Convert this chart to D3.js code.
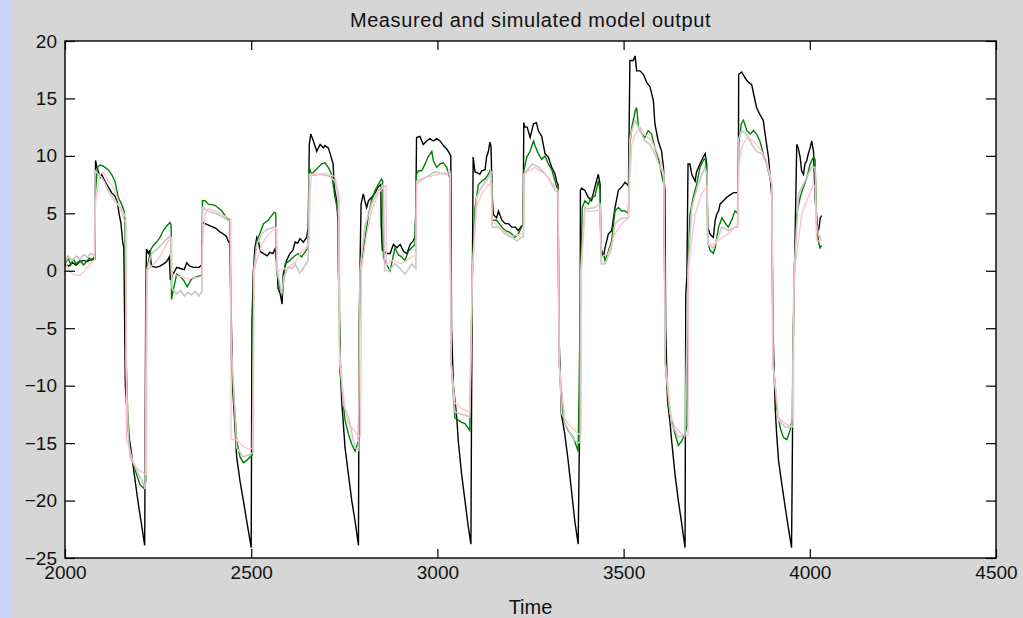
<!DOCTYPE html>
<html>
<head>
<meta charset="utf-8">
<script src="https://cdn.jsdelivr.net/npm/d3@7"></script>
<style>
  body { margin: 0; background: #d6d6d6; }
  text { font-family: "Liberation Sans", Arial, sans-serif; }
</style>
</head>
<body>
<svg id="chart" width="1023" height="618"></svg>
<script>
// values: [time, output]
var measured = [[2000,0.6],[2010,0.4],[2020,0.7],[2030,0.5],[2040,0.8],[2050,0.9],[2060,0.8],[2070,1.0],[2080,1.0],
  [2082,9.6],[2085,9.1],[2090,8.6],[2094,8.1],[2098,8.4],[2107,7.8],[2116,7.3],[2125,6.8],[2134,6.5],[2140,6.1],[2145,5.0],[2150,4.2],[2155,2.5],[2158,2.0],
  [2162,-10],[2170,-14],[2179,-16],[2188,-18.2],[2197,-20.3],[2206,-22.2],[2214,-23.9],
  [2217,-1],[2219,1.9],[2224,1.5],[2228,1.8],[2232,0.4],[2245,0.3],[2255,0.4],[2265,0.6],[2273,0.8],[2280,1.2],[2283,-0.8],[2290,-0.3],[2300,0.3],[2310,0.2],[2320,0.1],[2327,0.7],[2335,0.4],[2345,0.3],[2360,0.3],[2367,0.5],
  [2369,4.2],[2376,4.1],[2390,3.9],[2405,3.7],[2415,3.4],[2425,3.2],[2433,3.0],[2438,2.6],[2443,2.4],
  [2445,-1.5],[2450,-10],[2461,-16.2],[2470,-18.3],[2479,-20],[2488,-21.8],[2497,-23.5],[2500,-24.1],
  [2502,-4.4],[2506,0],[2510,2.0],[2515,2.9],[2520,2.5],[2524,1.7],[2533,1.5],[2543,1.3],[2550,1.6],[2558,1.5],[2564,1.9],[2570,0.3],
  [2572,-1.5],[2578,-2.0],[2583,-2.9],[2586,-0.3],[2595,0.9],[2604,1.5],[2612,1.8],[2618,2.5],[2625,2.4],[2631,2.8],[2640,2.5],[2649,2.9],[2653,3.8],
  [2656,11.0],[2660,11.9],[2667,11.3],[2676,10.4],[2685,11.0],[2694,10.7],[2698,10.9],[2707,10.7],[2712,10.2],[2720,9.3],[2723,7.3],[2730,6.0],[2733,4.2],[2734,0.3],
  [2740,-9],[2743,-11.3],[2752,-15.4],[2761,-17.7],[2770,-20],[2779,-21.8],[2788,-23.9],
  [2790,-5],[2792,0],[2795,5.8],[2801,6.7],[2805,6.1],[2810,5.5],[2815,6.1],[2824,6.4],[2833,6.8],[2841,7.3],[2848,7.5],[2849,4.2],[2852,1.8],[2864,1.5],[2873,1.5],[2882,2.3],[2891,2.0],[2900,2.3],[2909,1.7],[2918,1.5],[2927,2.3],[2935,2.6],[2940,2.9],[2942,5.2],
  [2944,11.6],[2953,11.7],[2962,11.0],[2971,11.3],[2980,11.5],[2989,11.3],[2998,11.5],[3007,11.3],[3016,10.9],[3025,10.6],[3031,10.3],[3036,10.0],
  [3038,-5],[3043,-10],[3052,-12.8],[3056,-14.8],[3065,-17.7],[3074,-20],[3083,-22.3],[3090,-23.8],
  [3092,-10],[3094,0],[3096,9.9],[3101,8.6],[3109,8.5],[3114,8.4],[3119,8.7],[3128,8.8],[3132,9.9],[3137,10.4],[3141,11.2],[3144,10.8],[3147,6.7],[3150,4.9],[3159,4.6],[3164,5.2],[3173,4.4],[3182,4.1],[3191,4.1],[3200,3.8],[3209,3.8],[3217,3.5],[3226,3.9],[3230,3.9],
  [3232,12.9],[3235,12.5],[3241,12.5],[3249,11.6],[3258,12.8],[3266,12.9],[3271,12.2],[3280,11.7],[3289,10.2],[3298,9.9],[3307,9.0],[3316,8.4],[3320,7.8],[3324,7.5],
  [3326,-5],[3333,-12.5],[3342,-14.2],[3351,-16.5],[3360,-19.1],[3369,-21.8],[3378,-23.8],
  [3383,-10],[3384,7.0],[3387,7.2],[3396,7.0],[3405,6.4],[3414,6.1],[3423,7.3],[3432,8.4],[3437,7.5],[3439,2.0],[3446,1.2],[3450,2.0],[3459,3.2],[3468,3.5],[3477,5.5],[3486,7.0],[3495,7.3],[3504,7.7],[3513,7.4],
  [3517,18.3],[3526,18.3],[3531,18.7],[3535,17.4],[3544,17.4],[3553,17.1],[3562,16.4],[3571,16.0],[3580,14.8],[3584,12.8],[3593,11.3],[3602,10.4],[3607,9.0],[3609,7.8],[3611,7.0],
  [3613,-5],[3618,-11.3],[3625,-13.3],[3629,-14.8],[3638,-17.7],[3647,-20],[3656,-22],[3665,-24.1],
  [3667,-2],[3670,-0.5],[3673,9.3],[3678,9.3],[3683,8.4],[3692,7.8],[3696,8.6],[3705,9.3],[3714,9.9],[3719,10.2],[3723,9.3],[3726,3.8],[3732,3.2],[3741,2.9],[3746,4.4],[3750,4.9],[3755,5.2],[3759,5.8],[3768,6.1],[3777,6.4],[3786,6.6],[3795,6.8],[3804,6.8],[3808,6.9],
  [3809,17.1],[3817,17.3],[3826,16.8],[3835,16.4],[3844,16.2],[3853,14.8],[3857,14.2],[3866,13.6],[3875,13.1],[3880,11.9],[3884,11.0],[3889,9.9],[3893,8.4],[3896,7.3],[3898,6.4],
  [3901,-5],[3907,-11.9],[3911,-14.2],[3916,-16.5],[3925,-18.6],[3934,-20.6],[3942,-22.3],[3951,-24.1],
  [3956,-5],[3960,2],[3965,11.0],[3969,10.7],[3974,9.9],[3978,8.7],[3983,8.4],[3987,9.3],[3992,9.6],[3996,10.2],[4001,10.7],[4005,11.3],[4010,10.4],[4014,6.4],[4019,4.4],[4021,3.2],[4025,3.8],[4028,4.6],[4032,4.8]];

var modelGreen = [[2000,0.4],[2008,1.2],[2015,0.5],[2022,1.0],[2030,0.6],[2040,0.9],[2050,0.5],[2058,0.8],[2065,1.1],[2072,0.9],[2080,1.3],
  [2082,7.0],[2087,9.0],[2094,9.2],[2103,9.1],[2107,9.0],[2116,8.8],[2125,8.4],[2134,7.8],[2143,6.4],[2152,5.8],[2159,5.2],[2161,4.2],
  [2164,-7.5],[2168,-12],[2175,-16],[2183,-16.8],[2192,-17.7],[2201,-18.6],[2210,-18.9],[2217,-18.3],
  [2219,0],[2231,1.9],[2237,2.2],[2246,2.5],[2255,2.9],[2264,3.5],[2273,3.9],[2282,4.2],[2285,4.0],
  [2286,-2.5],[2292,-1.5],[2300,-0.3],[2310,-0.5],[2320,-0.9],[2328,-1.4],[2340,-0.7],[2355,-0.5],[2368,-0.4],
  [2369,6.1],[2376,6.1],[2385,5.8],[2403,5.7],[2421,5.2],[2434,4.6],[2443,4.4],
  [2446,-7.3],[2461,-14.8],[2470,-16.2],[2479,-16.7],[2488,-16.5],[2497,-16.2],[2503,-16],
  [2506,0],[2515,2.6],[2524,3.3],[2533,4.1],[2546,4.4],[2555,4.8],[2562,5.1],[2566,5.0],
  [2568,0],[2577,-1.5],[2584,-2.0],[2591,0.6],[2604,0.9],[2613,1.2],[2626,1.5],[2635,1.2],[2644,1.6],[2653,2.0],
  [2656,9.0],[2662,8.4],[2671,8.7],[2680,9.0],[2689,9.3],[2698,9.4],[2707,9.0],[2716,8.4],[2725,6.4],[2734,4.9],[2736,4.5],
  [2738,-8.7],[2752,-13],[2761,-14.2],[2770,-15.1],[2779,-15.7],[2788,-14.8],
  [2792,0],[2805,2.6],[2815,4.9],[2823,6.1],[2833,7.0],[2841,7.5],[2850,8.0],[2853,7.8],
  [2855,1.2],[2864,0.5],[2873,0],[2886,2.0],[2895,1.4],[2904,1.2],[2913,0.9],[2922,1.7],[2931,2.0],[2940,2.3],
  [2944,8.4],[2949,8.7],[2958,8.7],[2967,9.3],[2975,9.9],[2985,10.4],[2989,9.6],[2998,9.0],[3007,9.3],[3016,9.4],[3025,9.0],[3031,8.3],[3034,8.0],
  [3037,-8],[3047,-12.8],[3056,-13],[3065,-13.2],[3074,-13.3],[3087,-13.9],
  [3094,0],[3101,5.5],[3110,7.5],[3119,7.8],[3128,8.0],[3137,8.4],[3141,8.7],[3145,8.5],
  [3147,4.4],[3159,4.4],[3173,3.8],[3182,3.5],[3191,3.4],[3200,3.2],[3208,2.9],[3217,3.2],[3226,3.8],[3231,4.0],
  [3232,8.7],[3240,9.9],[3249,10.4],[3258,11.3],[3262,10.9],[3271,10.2],[3280,9.7],[3289,10.0],[3298,9.3],[3307,8.8],[3316,7.8],[3320,7.3],[3324,7.0],
  [3327,-8],[3338,-13],[3351,-13.9],[3365,-14.5],[3378,-15.7],
  [3385,0],[3389,5.5],[3396,6.1],[3405,5.8],[3414,6.4],[3423,6.5],[3432,7.8],[3437,7.0],
  [3439,1.5],[3446,1.5],[3450,0.9],[3459,1.7],[3468,2.6],[3477,5.2],[3486,5.5],[3495,5.2],[3504,5.2],[3513,5.0],
  [3517,11.0],[3522,12.5],[3531,13.9],[3535,14.2],[3540,12.5],[3549,11.9],[3557,11.6],[3566,12.2],[3575,11.9],[3584,10.7],[3593,9.9],[3602,8.4],[3608,7.5],
  [3612,-8],[3620,-11.6],[3629,-13],[3638,-14.2],[3647,-15.2],[3656,-14.8],[3665,-14.2],[3670,-13.5],
  [3673,0],[3678,4.9],[3687,6.4],[3696,7.5],[3705,9.0],[3714,9.6],[3720,9.8],[3724,8.0],
  [3726,2.5],[3732,1.8],[3741,1.5],[3746,2.0],[3755,3.8],[3764,4.6],[3772,4.2],[3781,3.8],[3790,4.4],[3799,5.2],[3806,5.0],
  [3809,11.0],[3816,12.8],[3822,13.1],[3831,12.2],[3840,11.9],[3849,12.2],[3857,11.9],[3866,11.3],[3875,10.2],[3884,9.3],[3893,8.1],[3898,7.5],
  [3901,-8],[3907,-9.9],[3911,-11.9],[3920,-13.6],[3929,-14.5],[3938,-14.7],[3947,-13.9],[3953,-12.8],
  [3958,0],[3965,4.9],[3974,6.4],[3983,7.3],[3992,8.1],[4001,9.3],[4010,9.9],[4014,9.7],[4018,4.9],[4023,2.6],[4027,2.0],[4032,2.2]];

var modelGray = [[2000,0.8],[2010,1.2],[2020,0.9],[2030,1.3],[2040,1.0],[2050,1.4],[2060,1.2],[2070,1.5],[2079,1.3],
  [2081,8.7],[2090,8.4],[2099,8.1],[2108,7.6],[2116,7.0],[2125,6.5],[2134,6.1],[2148,5.5],[2159,4.9],[2163,4.6],
  [2164,-8],[2170,-14.5],[2175,-16.2],[2188,-17],[2197,-17.7],[2210,-18.5],[2215,-19],
  [2219,0],[2233,1.5],[2251,2.0],[2268,2.6],[2282,3.0],[2286,2.8],
  [2287,-1.5],[2300,-2.0],[2310,-1.7],[2320,-2.2],[2330,-1.9],[2340,-2.1],[2350,-1.8],[2360,-2.2],[2368,-1.8],
  [2369,5.5],[2385,5.2],[2412,4.9],[2438,4.4],[2444,4.3],
  [2446,-6],[2461,-15.4],[2479,-16.2],[2497,-16],[2505,-15.8],
  [2507,0],[2515,2.3],[2528,3.2],[2542,3.6],[2560,3.8],[2567,3.7],
  [2569,0],[2576,-1.0],[2582,-2.0],[2588,-0.5],[2600,0.3],[2610,0.2],[2618,0.6],[2630,-0.2],[2636,0],[2645,0.5],[2653,0.9],
  [2656,8.4],[2667,8.3],[2685,8.4],[2698,8.3],[2707,8.3],[2725,7.8],[2730,7.0],[2734,6.5],
  [2736,-6],[2747,-11.6],[2761,-12.8],[2779,-15.4],[2788,-15.6],
  [2792,0],[2805,3.8],[2823,5.8],[2841,7.0],[2855,7.5],
  [2858,0],[2868,0],[2886,0.6],[2900,0.2],[2913,-0.3],[2925,0.3],[2931,0.6],[2942,0.2],
  [2944,7.8],[2967,8.1],[2993,8.6],[3020,8.4],[3034,8.4],
  [3037,-8],[3047,-12.3],[3065,-12.5],[3087,-12.7],
  [3094,0],[3105,6.4],[3119,7.3],[3137,8.1],[3144,8.7],
  [3147,3.8],[3164,3.8],[3182,3.2],[3200,2.9],[3213,2.6],[3226,2.9],[3231,3.0],
  [3232,8.4],[3255,9.3],[3273,9.0],[3298,8.1],[3316,7.0],[3324,6.8],
  [3327,-8],[3342,-13.3],[3369,-14.8],[3383,-15],
  [3385,0],[3396,5.5],[3405,5.4],[3423,5.5],[3437,5.8],
  [3440,0.6],[3450,0.6],[3468,2.0],[3477,4.1],[3495,4.6],[3513,4.6],
  [3517,11.5],[3522,12.2],[3531,13.1],[3544,12.2],[3557,11.3],[3571,11.0],[3584,10.2],[3598,9.0],[3608,8.4],
  [3612,-8],[3629,-13.3],[3647,-14.5],[3665,-14.2],
  [3673,0],[3683,5.5],[3700,7.5],[3718,9.0],[3724,8.5],
  [3726,2.3],[3740,2.0],[3746,2.3],[3764,3.8],[3781,3.5],[3799,3.8],[3806,3.8],
  [3809,11.5],[3817,12.2],[3830,11.9],[3844,11.0],[3857,10.4],[3871,10.2],[3884,9.3],[3898,7.5],
  [3901,-8],[3916,-13],[3934,-13.6],[3952,-13.6],
  [3958,0],[3970,6.7],[3987,7.8],[4005,9.0],[4014,9.0],[4018,4.0],[4023,3.2],[4032,2.6]];

var modelPink = [[2000,0.9],[2010,0.1],[2020,-0.3],[2030,-0.4],[2040,-0.4],[2050,-0.1],[2060,0.3],[2072,0.7],[2080,1.0],
  [2082,6.1],[2090,7.5],[2094,8.4],[2103,8.6],[2116,7.8],[2125,7.5],[2134,7.0],[2148,5.5],[2159,4.4],[2164,4.2],
  [2165,-14.8],[2170,-15.1],[2179,-16.2],[2188,-17],[2201,-17.4],[2215,-17.7],[2219,-17.7],
  [2220,0],[2228,0.3],[2242,0.7],[2260,1.5],[2277,2.6],[2285,2.8],
  [2286,-0.3],[2310,-0.5],[2330,-0.7],[2350,-0.6],[2368,-0.5],
  [2369,2.0],[2376,4.9],[2385,5.4],[2403,5.2],[2421,4.9],[2438,4.6],[2445,4.5],
  [2446,-14.7],[2461,-14.7],[2474,-15.2],[2492,-15.5],[2503,-15.5],
  [2508,0],[2515,0.9],[2528,2.3],[2542,3.0],[2560,3.6],[2568,3.8],
  [2570,0],[2582,0.1],[2600,0.3],[2620,0.8],[2635,1.7],[2645,1.9],[2656,2.5],
  [2658,7.0],[2662,8.4],[2680,8.4],[2698,8.5],[2725,8.2],[2732,7.1],[2736,6.5],
  [2737,-8],[2752,-11.9],[2761,-13.3],[2774,-13.8],[2788,-14.4],[2794,-14.4],
  [2796,0],[2810,3.2],[2823,5.2],[2841,6.7],[2855,7.3],[2862,7.4],
  [2863,0.5],[2877,0.9],[2904,0.6],[2931,1.2],[2942,1.4],
  [2944,7.5],[2967,8.1],[3002,8.4],[3030,8.6],[3034,8.6],
  [3037,-8],[3047,-11.5],[3065,-12.0],[3087,-12.3],
  [3094,0],[3105,5.5],[3119,6.7],[3137,7.5],[3146,7.6],
  [3147,4.4],[3164,3.8],[3200,3.0],[3226,3.2],[3231,3.2],
  [3232,8.4],[3262,9.0],[3289,8.4],[3316,7.3],[3324,7.0],
  [3327,-8],[3334,-12.5],[3351,-13.3],[3378,-14.2],[3386,-14.2],
  [3387,0],[3396,5.2],[3423,5.2],[3437,5.3],
  [3440,1.2],[3459,1.5],[3477,3.2],[3495,4.1],[3513,4.6],
  [3517,8],[3522,11.0],[3531,11.9],[3544,12.5],[3557,11.9],[3575,11.3],[3589,10.4],[3602,9.3],[3608,8.4],
  [3612,-8],[3625,-12.5],[3638,-13.6],[3656,-14.2],[3665,-14.4],[3673,-14.4],
  [3674,0],[3678,1.5],[3692,4.9],[3710,6.7],[3723,7.3],
  [3726,2.3],[3741,2.3],[3764,2.9],[3781,3.2],[3799,3.8],[3808,4.0],
  [3809,9.0],[3817,10.7],[3830,11.6],[3844,11.4],[3857,11.0],[3871,10.4],[3884,9.6],[3898,7.8],
  [3901,-8],[3916,-12.8],[3934,-13.3],[3956,-13.6],
  [3958,0],[3965,1.5],[3978,4.9],[3996,6.4],[4010,7.5],[4014,7.3],[4018,2.6],[4032,2.6]];

var xTicks = [2000, 2500, 3000, 3500, 4000, 4500];
var yTicks = [-25, -20, -15, -10, -5, 0, 5, 10, 15, 20];
var titleText = "Measured and simulated model output";
var xLabel = "Time";

var svg = d3.select("#chart"),
    margin = {top: 41, right: 27, bottom: 60, left: 65},
    W = +svg.attr("width"),
    H = +svg.attr("height");

svg.append("rect").attr("width", W).attr("height", H).attr("fill", "#d6d6d6");
svg.append("rect").attr("width", 12).attr("height", H).attr("fill", "#cad6fc");

var x = d3.scaleLinear()
    .domain([2000, 4500])
    .range([margin.left, W - margin.right]);

var y = d3.scaleLinear()
    .domain([-25, 20])
    .range([H - margin.bottom, margin.top]);

svg.append("rect")
    .attr("x", x.range()[0])
    .attr("y", y.range()[1])
    .attr("width", x.range()[1] - x.range()[0])
    .attr("height", y.range()[0] - y.range()[1])
    .attr("fill", "#fff");

svg.append("clipPath").attr("id", "clip")
  .append("rect")
    .attr("x", x.range()[0])
    .attr("y", y.range()[1])
    .attr("width", x.range()[1] - x.range()[0])
    .attr("height", y.range()[0] - y.range()[1]);

var line = d3.line()
    .x(function(d) { return x(d[0]); })
    .y(function(d) { return y(d[1]); });

var plot = svg.append("g").attr("clip-path", "url(#clip)");

[[measured, "#000000", 1.4],
 [modelGreen, "#008000", 1.4],
 [modelGray, "#c8c8c8", 1.6],
 [modelPink, "#ffc0cb", 1.3]].forEach(function(s) {
  plot.append("path")
      .datum(s[0])
      .attr("fill", "none")
      .attr("stroke", s[1])
      .attr("stroke-width", s[2])
      .attr("stroke-linejoin", "miter")
      .attr("d", line);
});

// axes, ticks pointing inward like matlab
function styleAxis(g) {
  g.select(".domain").remove();
  g.selectAll(".tick line").attr("stroke", "#000").attr("stroke-width", 1.2);
  g.selectAll(".tick text").attr("fill", "#111").style("font-size", "19px");
}

svg.append("g")
    .attr("transform", "translate(0," + y.range()[0] + ")")
    .call(d3.axisBottom(x).tickValues(xTicks).tickSize(-9).tickSizeOuter(0).tickPadding(8).tickFormat(d3.format("d")))
    .call(styleAxis);

svg.append("g")
    .attr("transform", "translate(0," + y.range()[1] + ")")
    .call(d3.axisTop(x).tickValues(xTicks).tickSize(-9).tickSizeOuter(0).tickFormat(""))
    .call(styleAxis);

svg.append("g")
    .attr("transform", "translate(" + x.range()[0] + ",0)")
    .call(d3.axisLeft(y).tickValues(yTicks).tickSize(-10).tickSizeOuter(0).tickPadding(8))
    .call(styleAxis);

svg.append("g")
    .attr("transform", "translate(" + x.range()[1] + ",0)")
    .call(d3.axisRight(y).tickValues(yTicks).tickSize(-10).tickSizeOuter(0).tickFormat(""))
    .call(styleAxis);

svg.append("rect")
    .attr("x", x.range()[0])
    .attr("y", y.range()[1])
    .attr("width", x.range()[1] - x.range()[0])
    .attr("height", y.range()[0] - y.range()[1])
    .attr("fill", "none")
    .attr("stroke", "#000")
    .attr("stroke-width", 1.4);

svg.append("text")
    .attr("x", (x.range()[0] + x.range()[1]) / 2)
    .attr("y", 27)
    .attr("text-anchor", "middle")
    .style("font-size", "20px")
    .style("letter-spacing", "0.6px")
    .attr("fill", "#111")
    .text(titleText);

svg.append("text")
    .attr("x", (x.range()[0] + x.range()[1]) / 2)
    .attr("y", 614)
    .attr("text-anchor", "middle")
    .style("font-size", "20px")
    .attr("fill", "#111")
    .text(xLabel);
</script>
</body>
</html>
